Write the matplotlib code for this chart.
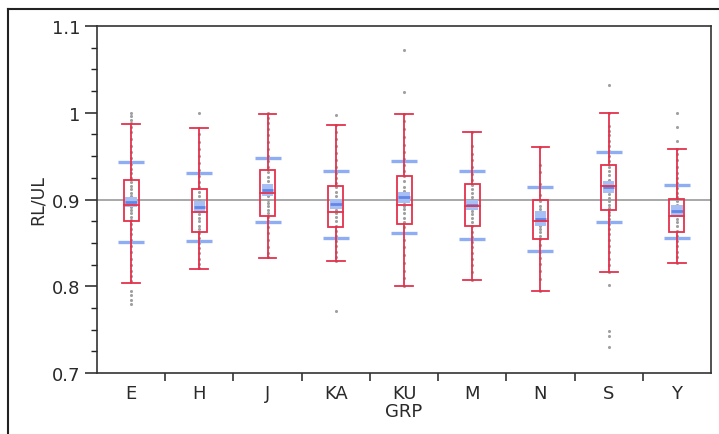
#!/usr/bin/env python3
"""RL/UL by GRP: box plots with raw points, mean and +/- 1 SD marks (JMP style)."""

from __future__ import annotations

import matplotlib

matplotlib.use("Agg")
import matplotlib.pyplot as plt
from matplotlib.lines import Line2D
from matplotlib.patches import Rectangle
from matplotlib.ticker import FixedLocator, MultipleLocator

GROUPS = ["E", "H", "J", "KA", "KU", "M", "N", "S", "Y"]

WHISK_HI = [0.987, 0.982, 0.999, 0.986, 0.999, 0.978, 0.960, 1.000, 0.958]
Q3 = [0.923, 0.912, 0.934, 0.916, 0.927, 0.918, 0.899, 0.940, 0.901]
MEDIAN = [0.894, 0.886, 0.908, 0.886, 0.894, 0.892, 0.875, 0.916, 0.881]
Q1 = [0.875, 0.863, 0.881, 0.868, 0.872, 0.869, 0.855, 0.888, 0.863]
WHISK_LO = [0.804, 0.820, 0.833, 0.829, 0.800, 0.807, 0.794, 0.816, 0.827]

MEANS = [0.897, 0.891, 0.911, 0.8945, 0.9025, 0.8935, 0.878, 0.9145, 0.8865]
SDS = [0.0465, 0.039, 0.037, 0.0385, 0.0415, 0.0395, 0.037, 0.0405, 0.0305]
MEAN_CI = [0.006, 0.007, 0.007, 0.006, 0.006, 0.006, 0.009, 0.007, 0.007]

REF_LINE = 0.9

E_PTS = [1.000, 0.996, 0.992, 0.988, 0.984, 0.978, 0.970, 0.962, 0.955, 0.948,
         0.941, 0.935, 0.930, 0.925, 0.920, 0.916, 0.912, 0.908, 0.904, 0.900,
         0.897, 0.894, 0.891, 0.888, 0.884, 0.880, 0.876, 0.872, 0.866, 0.860,
         0.853, 0.846, 0.840, 0.832, 0.825, 0.818, 0.812, 0.806, 0.795, 0.790,
         0.784, 0.780]
H_PTS = [1.000, 0.975, 0.966, 0.958, 0.950, 0.942, 0.934, 0.927, 0.920, 0.914,
         0.909, 0.904, 0.899, 0.895, 0.891, 0.887, 0.883, 0.879, 0.875, 0.870,
         0.866, 0.861, 0.856, 0.850, 0.844, 0.838, 0.832, 0.826, 0.821]
J_PTS = [1.000, 0.994, 0.988, 0.981, 0.974, 0.966, 0.958, 0.950, 0.944, 0.938,
         0.932, 0.926, 0.921, 0.916, 0.912, 0.908, 0.904, 0.900, 0.896, 0.892,
         0.888, 0.884, 0.880, 0.875, 0.868, 0.861, 0.853, 0.845, 0.838, 0.834]
KA_PTS = [0.997, 0.986, 0.978, 0.970, 0.962, 0.954, 0.946, 0.938, 0.931, 0.925,
          0.919, 0.914, 0.909, 0.904, 0.900, 0.896, 0.892, 0.888, 0.884, 0.880,
          0.875, 0.870, 0.864, 0.858, 0.852, 0.846, 0.840, 0.834, 0.829, 0.772]
KU_PTS = [1.072, 1.024, 0.999, 0.990, 0.981, 0.972, 0.963, 0.955, 0.947, 0.940,
          0.933, 0.927, 0.921, 0.915, 0.910, 0.905, 0.901, 0.897, 0.893, 0.889,
          0.884, 0.879, 0.874, 0.868, 0.861, 0.853, 0.845, 0.836, 0.827, 0.818,
          0.809, 0.800]
M_PTS = [0.978, 0.962, 0.953, 0.946, 0.937, 0.929, 0.922, 0.917, 0.912, 0.907,
         0.903, 0.899, 0.895, 0.891, 0.887, 0.883, 0.879, 0.874, 0.869, 0.863,
         0.857, 0.851, 0.845, 0.838, 0.832, 0.825, 0.817, 0.807]
N_PTS = [0.960, 0.940, 0.932, 0.918, 0.905, 0.898, 0.893, 0.889, 0.884, 0.880,
         0.877, 0.874, 0.870, 0.866, 0.862, 0.858, 0.854, 0.848, 0.840, 0.833,
         0.826, 0.818, 0.808, 0.794]
S_PTS = [1.032, 1.000, 0.985, 0.979, 0.974, 0.968, 0.962, 0.956, 0.950, 0.944,
         0.938, 0.933, 0.928, 0.923, 0.918, 0.914, 0.910, 0.906, 0.902, 0.898,
         0.894, 0.890, 0.886, 0.882, 0.877, 0.872, 0.866, 0.860, 0.853, 0.846,
         0.839, 0.832, 0.825, 0.816, 0.801, 0.748, 0.743, 0.730]
Y_PTS = [1.000, 0.984, 0.967, 0.958, 0.952, 0.945, 0.938, 0.931, 0.925, 0.919,
         0.913, 0.908, 0.903, 0.898, 0.894, 0.890, 0.886, 0.882, 0.878, 0.874,
         0.869, 0.864, 0.858, 0.852, 0.846, 0.840, 0.834, 0.827]

POINTS = [E_PTS, H_PTS, J_PTS, KA_PTS, KU_PTS, M_PTS, N_PTS, S_PTS, Y_PTS]

BOX_RED = "#e3334d"
SD_BLUE = "#8fadf2"
MEAN_BLUE = "#6286e6"
CI_BLUE = "#a7bff5"
POINT_GREY = "#a0a0a0"
TEXT = "#2a2a2a"


def draw_group(ax, i: int) -> None:
    box_half, cap_half, sd_half = 0.11, 0.13, 0.19

    pts = POINTS[i]
    ax.scatter([i] * len(pts), pts, s=5, color=POINT_GREY, linewidths=0, zorder=2)

    # SD marks and mean (with its confidence band)
    for y in (MEANS[i] - SDS[i], MEANS[i] + SDS[i]):
        ax.plot([i - sd_half, i + sd_half], [y, y], color=SD_BLUE, lw=2.4,
                solid_capstyle="butt", zorder=3)
    ci = MEAN_CI[i]
    ax.add_patch(Rectangle((i - 0.085, MEANS[i] - ci), 0.17, 2 * ci,
                           facecolor=CI_BLUE, edgecolor="none", zorder=3))
    ax.plot([i - 0.085, i + 0.085], [MEANS[i], MEANS[i]], color=MEAN_BLUE,
            lw=2.0, solid_capstyle="butt", zorder=3)

    # box + whiskers
    ax.add_patch(Rectangle((i - box_half, Q1[i]), 2 * box_half, Q3[i] - Q1[i],
                           facecolor="none", edgecolor=BOX_RED, lw=1.3, zorder=4))
    ax.plot([i - box_half, i + box_half], [MEDIAN[i], MEDIAN[i]],
            color=BOX_RED, lw=1.3, zorder=4)
    ax.plot([i, i], [Q3[i], WHISK_HI[i]], color=BOX_RED, lw=1.3, zorder=4)
    ax.plot([i, i], [WHISK_LO[i], Q1[i]], color=BOX_RED, lw=1.3, zorder=4)
    for y in (WHISK_LO[i], WHISK_HI[i]):
        ax.plot([i - cap_half, i + cap_half], [y, y], color=BOX_RED, lw=1.3,
                zorder=4)


def main() -> None:
    fig = plt.figure(figsize=(7.19, 4.35), dpi=100)
    ax = fig.add_axes([0.1349, 0.1402, 0.8540, 0.7977])

    ax.axhline(REF_LINE, color="#9a9a9a", lw=1.2, zorder=1)
    for i in range(len(GROUPS)):
        draw_group(ax, i)

    ax.set_xlim(-0.5, len(GROUPS) - 0.5)
    ax.set_ylim(0.7, 1.1)

    ax.set_yticks([0.7, 0.8, 0.9, 1.0, 1.1], ["0.7", "0.8", "0.9", "1", "1.1"])
    ax.yaxis.set_minor_locator(MultipleLocator(0.025))
    ax.tick_params(axis="y", which="major", direction="out", length=9,
                   width=1.1, labelsize=13, pad=3, color="#222222",
                   labelcolor=TEXT)
    ax.tick_params(axis="y", which="minor", direction="out", length=4,
                   width=1.0, color="#222222")

    ax.set_xticks(range(len(GROUPS)), GROUPS)
    ax.xaxis.set_minor_locator(FixedLocator([k + 0.5 for k in range(len(GROUPS) - 1)]))
    ax.tick_params(axis="x", which="major", length=0, labelsize=13, pad=8,
                   labelcolor=TEXT)
    ax.tick_params(axis="x", which="minor", direction="out", length=6, width=1.1,
                   color="#222222")

    for sp in ax.spines.values():
        sp.set_color("#333333")
        sp.set_linewidth(1.2)

    ax.set_ylabel("RL/UL", fontsize=12.5, labelpad=4, color=TEXT)
    ax.set_xlabel("GRP", fontsize=13, labelpad=0, color=TEXT)

    # outer report frame (top and left edges only are visible)
    fig.add_artist(Line2D([8 / 719, 1.0], [1 - 10 / 435, 1 - 10 / 435],
                          transform=fig.transFigure, color="#222222", lw=1.5))
    fig.add_artist(Line2D([8 / 719, 8 / 719], [0.0, 1 - 10 / 435],
                          transform=fig.transFigure, color="#222222", lw=1.5))

    fig.savefig("out.png", dpi=100, facecolor="white")
    plt.close(fig)


if __name__ == "__main__":
    main()
